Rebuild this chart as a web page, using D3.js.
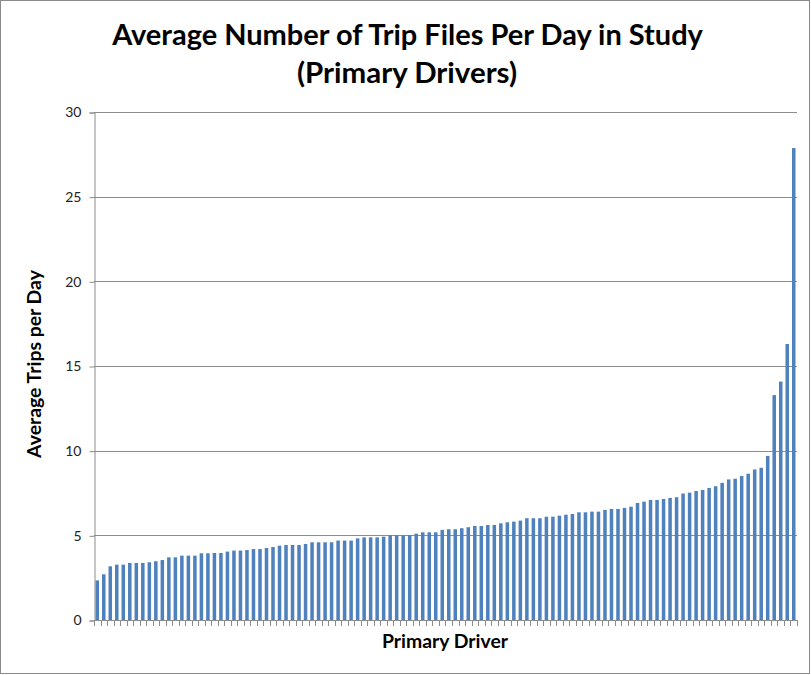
<!DOCTYPE html>
<html>
<head>
<meta charset="utf-8">
<script src="https://cdn.jsdelivr.net/npm/d3@7"></script>
<style>
  html, body { margin: 0; padding: 0; background: #fff; }
  svg { display: block; }
  text { font-family: Lato, "Open Sans", sans-serif; }
</style>
</head>
<body>
<div id="chart"></div>
<script>
const titleLines = ["Average Number of Trip Files Per Day in Study", "(Primary Drivers)"];
const xTitle = "Primary Driver";
const yTitle = "Average Trips per Day";
const yTicks = [0, 5, 10, 15, 20, 25, 30];
const values = [
  2.34, 2.70, 3.17, 3.27, 3.27, 3.37, 3.37, 3.37, 3.41, 3.47, 3.54, 3.70, 3.70, 3.80, 3.80, 3.80, 3.94, 3.94,
  3.96, 3.96, 4.04, 4.10, 4.10, 4.13, 4.19, 4.19, 4.25, 4.31, 4.39, 4.43, 4.43, 4.43, 4.49, 4.59, 4.59, 4.59,
  4.59, 4.69, 4.69, 4.69, 4.82, 4.88, 4.88, 4.88, 4.92, 5.00, 5.00, 5.00, 5.02, 5.10, 5.18, 5.18, 5.18, 5.32,
  5.36, 5.36, 5.42, 5.48, 5.55, 5.55, 5.61, 5.61, 5.71, 5.77, 5.81, 5.87, 6.01, 6.01, 6.01, 6.10, 6.10, 6.16,
  6.22, 6.26, 6.36, 6.36, 6.40, 6.40, 6.50, 6.56, 6.56, 6.62, 6.69, 6.91, 6.99, 7.09, 7.09, 7.15, 7.21, 7.25,
  7.47, 7.52, 7.62, 7.68, 7.80, 7.90, 8.10, 8.30, 8.34, 8.50, 8.64, 8.89, 8.99, 9.69, 13.28, 14.08, 16.30, 27.87
];
const categories = values.map((v, i) => "Driver " + (i + 1));

const W = 811, H = 675;
const plot = { left: 94, right: 797, top: 112, bottom: 620 };

const svg = d3.select("#chart").append("svg")
  .attr("width", W).attr("height", H);

svg.append("rect")
  .attr("x", 0.5).attr("y", 0.5).attr("width", W - 2).attr("height", H - 2)
  .attr("fill", "#fff").attr("stroke", "#8a8a8a").attr("stroke-width", 1);

const x = d3.scaleBand().domain(categories)
  .range([plot.left, plot.right]).paddingInner(0.46).paddingOuter(0.23);
const y = d3.scaleLinear().domain([0, 30]).range([plot.bottom, plot.top]);

// gridlines
svg.append("g").selectAll("line")
  .data(yTicks.filter(t => t > 0))
  .join("line")
  .attr("x1", plot.left).attr("x2", plot.right)
  .attr("y1", d => Math.round(y(d)) + 0.5).attr("y2", d => Math.round(y(d)) + 0.5)
  .attr("stroke", "#8c8c8c").attr("stroke-width", 1);

// bars
svg.append("g").selectAll("rect")
  .data(values)
  .join("rect")
  .attr("x", (d, i) => x(categories[i]))
  .attr("width", x.bandwidth())
  .attr("y", d => y(d))
  .attr("height", d => y(0) - y(d))
  .attr("fill", "#4f81bd");

// y axis
const yAxis = d3.axisLeft(y).tickValues(yTicks).tickSize(5).tickPadding(8);
const gy = svg.append("g")
  .attr("transform", `translate(${plot.left + 0.5},0.5)`)
  .call(yAxis);
gy.select(".domain").attr("stroke", "#8c8c8c");
gy.selectAll(".tick line").attr("stroke", "#8c8c8c");
gy.selectAll(".tick text").attr("font-size", 14).attr("fill", "#222")
  .attr("font-family", "Lato, 'Open Sans', sans-serif");

// x axis: tick marks at category boundaries
const gx = svg.append("g");
gx.append("line")
  .attr("x1", plot.left).attr("x2", plot.right)
  .attr("y1", plot.bottom + 0.5).attr("y2", plot.bottom + 0.5)
  .attr("stroke", "#8c8c8c");
const boundaries = categories.map(c => x(c) - x.step() * x.paddingInner() / 2).concat([plot.right]);
gx.selectAll("line.tk")
  .data(boundaries)
  .join("line").attr("class", "tk")
  .attr("x1", d => Math.round(d) + 0.5).attr("x2", d => Math.round(d) + 0.5)
  .attr("y1", plot.bottom).attr("y2", plot.bottom + 6)
  .attr("stroke", "#8c8c8c");

function fitText(sel, targetWidth) {
  const base = 20;
  sel.attr("font-size", base);
  const w = sel.node().getComputedTextLength();
  sel.attr("font-size", base * targetWidth / w);
}

// title
const t1 = svg.append("text").text(titleLines[0])
  .attr("x", 407.5).attr("y", 45).attr("text-anchor", "middle")
  .attr("font-weight", "bold").attr("fill", "#000");
fitText(t1, 591);
const t2 = svg.append("text").text(titleLines[1])
  .attr("x", 407).attr("y", 83).attr("text-anchor", "middle")
  .attr("font-weight", "bold").attr("fill", "#000");
fitText(t2, 220);

// axis titles
const xt = svg.append("text").text(xTitle)
  .attr("x", 445).attr("y", 648).attr("text-anchor", "middle")
  .attr("font-weight", "bold").attr("fill", "#000");
fitText(xt, 126);

const yt = svg.append("text").text(yTitle)
  .attr("transform", "translate(41,364) rotate(-90)")
  .attr("text-anchor", "middle")
  .attr("font-weight", "bold").attr("fill", "#000");
fitText(yt, 188);
</script>
</body>
</html>
